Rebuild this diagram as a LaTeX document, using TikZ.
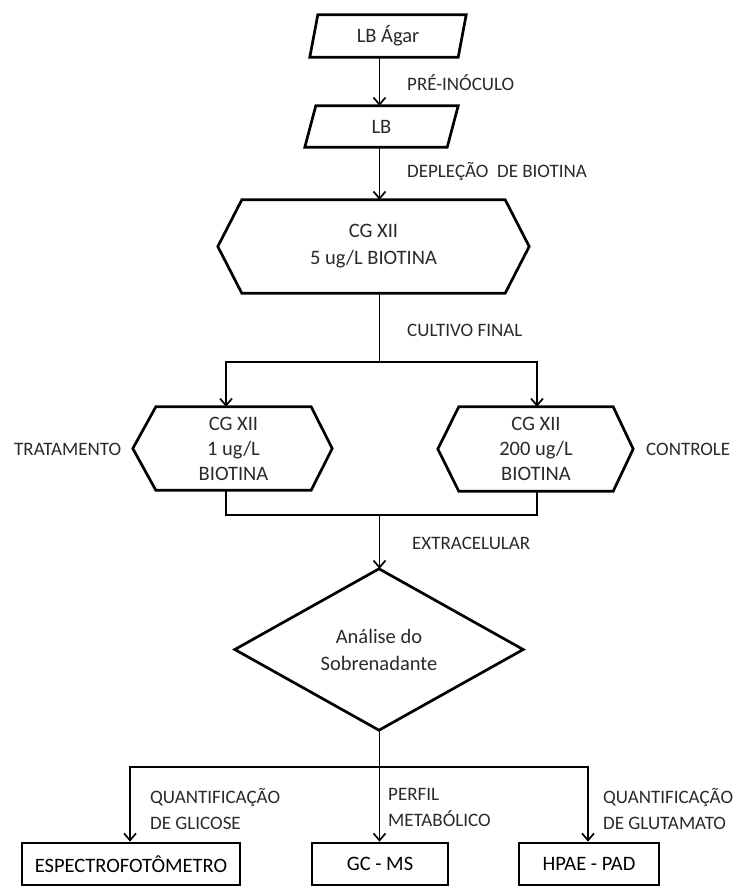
\documentclass[tikz,border=0pt]{standalone}
\usepackage{fontspec}
\setmainfont{Carlito}
\usetikzlibrary{arrows.meta,calc}
\definecolor{txt}{HTML}{2A2A2A}
\begin{document}
\begin{tikzpicture}[x=1pt,y=-1pt,
  outline/.style={line width=2.7pt,line join=miter,black},
  conn/.style={line width=1.7pt,black},
  arr/.style={conn,-{Straight Barb[length=7pt,width=12pt,line width=1.7pt]}},
  body/.style={rectangle,draw=none,inner sep=0pt,align=center,text=txt,
    font=\fontsize{20.5}{25}\selectfont},
  lbl/.style={inner sep=0pt,anchor=west,align=left,text=txt,
    font=\fontsize{19}{26}\selectfont}]
\useasboundingbox (0,0) rectangle (736,888);
\fill[white] (0,0) rectangle (736,888);

% axis coordinates
\coordinate (ax) at (379.5,0);
\coordinate (lx) at (226,0);
\coordinate (rx) at (537,0);
\coordinate (j1) at (379.5,362);
\coordinate (j2) at (379.5,515);
\coordinate (j3) at (379.5,767);

% parallelograms
\node[body,minimum width=148pt,minimum height=42pt] (p1) at (388,36) {LB Ágar};
\draw[outline] ([xshift=-4pt]p1.south west) -- ([xshift=4pt]p1.north west)
  -- ([xshift=4pt]p1.north east) -- ([xshift=-4pt]p1.south east) -- cycle;

\node[body,minimum width=142pt,minimum height=41pt] (p2) at (381.5,126.5) {LB};
\draw[outline] ([xshift=-5.5pt]p2.south west) -- ([xshift=5.5pt]p2.north west)
  -- ([xshift=5.5pt]p2.north east) -- ([xshift=-5.5pt]p2.south east) -- cycle;

% top hexagon
\node[body,minimum width=263pt,minimum height=93pt,font=\fontsize{20.5}{27}\selectfont] (h1) at (373.5,246.5) {CG XII\\5 ug/L BIOTINA};
\draw[outline] (h1.north west) -- (h1.north east) -- ([xshift=24pt]h1.east)
  -- (h1.south east) -- (h1.south west) -- ([xshift=-24pt]h1.west) -- cycle;

% side hexagons
\node[body,minimum width=155pt,minimum height=83pt] (hl) at (233.5,448.5) {CG XII\\1 ug/L\\BIOTINA};
\draw[outline] (hl.north west) -- (hl.north east) -- ([xshift=21pt]hl.east)
  -- (hl.south east) -- (hl.south west) -- ([xshift=-23pt]hl.west) -- cycle;

\node[body,minimum width=154pt,minimum height=84pt] (hr) at (536,449) {CG XII\\200 ug/L\\BIOTINA};
\draw[outline] (hr.north west) -- (hr.north east) -- ([xshift=20pt]hr.east)
  -- (hr.south east) -- (hr.south west) -- ([xshift=-21pt]hr.west) -- cycle;

% diamond
\node[body,minimum width=288pt,minimum height=161pt,font=\fontsize{20.5}{27}\selectfont] (dia) at (379,649.5) {Análise do\\Sobrenadante};
\draw[outline] (dia.north) -- (dia.east) -- (dia.south) -- (dia.west) -- cycle;

% bottom boxes
\node[body,draw,outline,minimum width=218pt,minimum height=42pt] (b1) at (131,864) {ESPECTROFOTÔMETRO};
\node[body,draw,outline,minimum width=136pt,minimum height=42pt] (b2) at (380,864) {GC - MS};
\node[body,draw,outline,minimum width=140pt,minimum height=42pt] (b3) at (589,864) {HPAE - PAD};

% connectors
\draw[arr] (p1.south -| ax) -- (p2.north -| ax);
\draw[arr] (p2.south -| ax) -- (h1.north -| ax);
\draw[conn] (h1.south -| ax) -- (j1);
\draw[arr] (j1) -| (hl.north -| lx);
\draw[arr] (j1) -| (hr.north -| rx);
\draw[conn] (hl.south -| lx) -- (lx |- j2) -- (rx |- j2) -- (hr.south -| rx);
\draw[arr] (j2) -- (dia.north -| j2);
\draw[conn] (dia.south -| j3) -- (j3);
\draw[arr] (j3) -| (b1.north -| 130,0);
\draw[arr] (j3) -- (b2.north -| j3);
\draw[arr] (j3) -| (b3.north -| 588,0);

% labels
\node[lbl] (l1) at (407,83) {PRÉ-INÓCULO};
\node[lbl] (l2) at (407,172) {DEPLEÇÃO\ \ DE BIOTINA};
\node[lbl] (l3) at (407,330) {CULTIVO FINAL};
\node[lbl] (l4) at (14,449) {TRATAMENTO};
\node[lbl] (l5) at (646,449) {CONTROLE};
\node[lbl] (l6) at (412,543) {EXTRACELULAR};
\node[lbl] (l7) at (150,809) {QUANTIFICAÇÃO\\DE GLICOSE};
\node[lbl] (l8) at (388,807) {PERFIL\\METABÓLICO};
\node[lbl] (l9) at (603,809) {QUANTIFICAÇÃO\\DE GLUTAMATO};
\end{tikzpicture}
\end{document}
